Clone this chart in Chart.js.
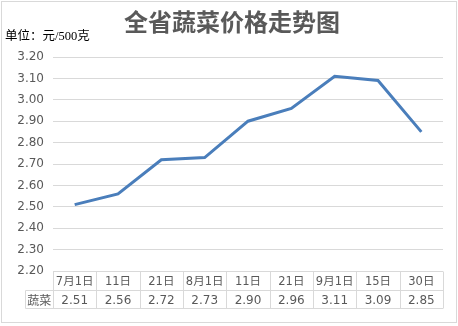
<!DOCTYPE html>
<html>
<head>
<meta charset="utf-8">
<script src="https://cdn.jsdelivr.net/npm/chart.js@4"></script>
<style>
  body { margin: 0; background: #fff; }
  canvas { display: block; }
</style>
</head>
<body>
<canvas id="chart" width="458" height="326"></canvas>
<script>
const categories = ["7月1日", "11日", "21日", "8月1日", "11日", "21日", "9月1日", "15日", "30日"];
const prices = [2.51, 2.56, 2.72, 2.73, 2.90, 2.96, 3.11, 3.09, 2.85];
const seriesName = "蔬菜";
const title = "全省蔬菜价格走势图";
const unit = "单位：元/500克";

const grey = "#595959";
const lineGrey = "#d9d9d9";

// title, unit, border and data table under the plot
const extras = {
  id: "extras",
  afterDraw(chart) {
    const c = chart.ctx;
    const x = chart.scales.x;
    const area = chart.chartArea;
    c.save();

    c.strokeStyle = lineGrey;
    c.lineWidth = 1;
    c.strokeRect(1.5, 1.5, 455, 321);

    c.fillStyle = grey;
    c.textAlign = "center";
    c.textBaseline = "middle";
    c.font = "bold 24px 'Noto Sans CJK SC'";
    c.fillText(title, 232, 22);

    c.fillStyle = "#000";
    c.textAlign = "left";
    c.font = "12.5px 'Liberation Serif', 'Noto Sans CJK SC'";
    c.fillText(unit, 5, 37);

    const half = (x.getPixelForValue(1) - x.getPixelForValue(0)) / 2;
    const left = area.left, right = area.right;
    const top = Math.round(area.bottom) + 0.5;
    const mid = top + 19;
    const bot = mid + 18;
    const firstCol = 25.5;

    c.beginPath();
    c.moveTo(left, top); c.lineTo(right, top);
    c.moveTo(firstCol, mid); c.lineTo(right, mid);
    c.moveTo(firstCol, bot); c.lineTo(right, bot);
    c.moveTo(firstCol, mid); c.lineTo(firstCol, bot);
    for (let i = 0; i <= categories.length; i++) {
      const px = Math.round(x.getPixelForValue(0) - half + i * half * 2) + 0.5;
      c.moveTo(px, top); c.lineTo(px, bot);
    }
    c.stroke();

    c.fillStyle = grey;
    c.textAlign = "center";
    c.font = "11.5px 'DejaVu Sans', 'Noto Sans CJK SC'";
    categories.forEach((lab, i) => {
      c.fillText(lab, x.getPixelForValue(i), (top + mid) / 2 + 1);
    });
    c.font = "12px 'DejaVu Sans', 'Noto Sans CJK SC'";
    prices.forEach((v, i) => {
      c.fillText(v.toFixed(2), x.getPixelForValue(i), (mid + bot) / 2 + 1);
    });
    c.font = "12px 'Noto Sans CJK SC'";
    c.fillText(seriesName, (firstCol + left) / 2, (mid + bot) / 2 + 1);

    c.restore();
  }
};

new Chart(document.getElementById("chart"), {
  type: "line",
  data: {
    labels: categories,
    datasets: [
      {
        label: seriesName,
        data: prices,
        borderColor: "#4a7ebb",
        borderWidth: 3,
        pointRadius: 0,
        tension: 0,
      },
    ],
  },
  options: {
    responsive: false,
    animation: false,
    layout: { padding: { top: 57, bottom: 55, left: 0, right: 15 } },
    scales: {
      x: {
        display: false,
        offset: true,
      },
      y: {
        min: 2.2,
        max: 3.2,
        afterFit(scale) { scale.width = 53; },
        border: { display: false },
        grid: { color: lineGrey, drawTicks: false },
        ticks: {
          stepSize: 0.1,
          padding: 9,
          color: grey,
          font: { family: "DejaVu Sans", size: 12 },
          callback: (v) => v.toFixed(2),
        },
      },
    },
    plugins: {
      legend: { display: false },
      tooltip: { enabled: false },
    },
  },
  plugins: [extras],
});
</script>
</body>
</html>
